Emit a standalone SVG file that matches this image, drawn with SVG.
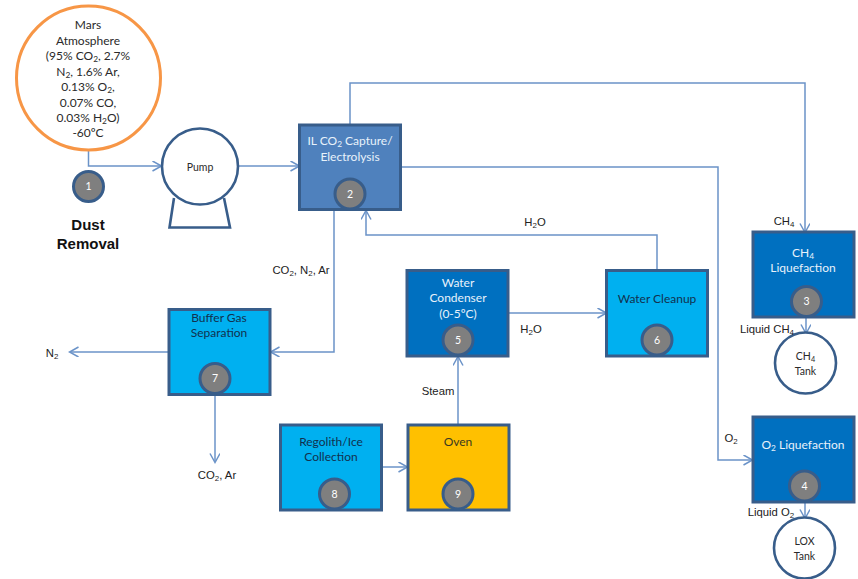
<svg xmlns="http://www.w3.org/2000/svg" width="858" height="579" viewBox="0 0 858 579">
<style>
text{font-family:Lato,"Open Sans","Liberation Sans",sans-serif;font-size:12px;text-anchor:middle;fill:#2a2a2a}
.a{font-family:"Liberation Sans",Arial,sans-serif;font-size:11.3px;fill:#222}
.w{fill:#e8f2fb}
.b{stroke:#385d8a;stroke-width:3}
.dark{fill:#0070c0}.mid{fill:#4f81bd}.light{fill:#00b0f0}.or{fill:#ffc000}
.w2{fill:#fff;stroke:#385d8a;stroke-width:2.6}
.n{fill:#7f7f7f;stroke:#385d8a;stroke-width:3}
.nt{fill:#fff;font-size:10.5px}
.sm{font-size:10.5px}
.c{fill:none;stroke:#6b93c8;stroke-width:1.5}
.s{font-size:70%;baseline-shift:-25%}
</style>
<defs><marker id="ah" markerWidth="12" markerHeight="12" refX="9.5" refY="5" orient="auto" markerUnits="userSpaceOnUse"><path d="M1 0L10 5L1 10" fill="none" stroke="#6b93c8" stroke-width="1.5"/></marker></defs>
<g id="connectors">
<path class="c" marker-end="url(#ah)" d="M88.500 148V166H161"/>
<path class="c" marker-end="url(#ah)" d="M239 166H299"/>
<path class="c" marker-end="url(#ah)" d="M350 124V83H805V232"/>
<path class="c" marker-end="url(#ah)" d="M400 167H718V460H752"/>
<path class="c" marker-end="url(#ah)" d="M657 270V235H366V211"/>
<path class="c" marker-end="url(#ah)" d="M334 211V352H271"/>
<path class="c" marker-end="url(#ah)" d="M168 352H70"/>
<path class="c" marker-end="url(#ah)" d="M215 395V462"/>
<path class="c" marker-end="url(#ah)" d="M382 467H407"/>
<path class="c" marker-end="url(#ah)" d="M458 424V357"/>
<path class="c" marker-end="url(#ah)" d="M508 313H606"/>
<path class="c" marker-end="url(#ah)" d="M806 318V333"/>
<path class="c" marker-end="url(#ah)" d="M805 503V518"/>
</g>
<g id="n-atmosphere"><circle cx="88.500" cy="78" r="72" fill="#fff" stroke="#f79646" stroke-width="3"/>
<text x="88" y="29">Mars</text><text x="88" y="45">Atmosphere</text>
<text x="88" y="60">(95% CO<tspan class="s">2</tspan>, 2.7%</text>
<text x="88" y="76">N<tspan class="s">2</tspan>, 1.6% Ar,</text>
<text x="88" y="91">0.13% O<tspan class="s">2</tspan>,</text>
<text x="88" y="107">0.07% CO,</text>
<text x="88" y="122">0.03% H<tspan class="s">2</tspan>O)</text>
<text x="88" y="137">-60ºC</text></g>
<g id="n-1"><circle class="n" cx="88.500" cy="186.500" r="15"/><text class="nt" x="88.500" y="190">1</text>
<text x="88" y="230" style="font-family:'Liberation Sans',Arial,sans-serif;font-size:15px;font-weight:bold;fill:#111">Dust</text><text x="88" y="249" style="font-family:'Liberation Sans',Arial,sans-serif;font-size:15px;font-weight:bold;fill:#111">Removal</text></g>
<g id="n-pump"><path d="M174 198L169.500 227.500H230L224 198" fill="#fff" stroke="#385d8a" stroke-width="2.600"/><circle class="w2" cx="200" cy="166.500" r="38"/><text class="sm" x="200" y="171">Pump</text></g>
<g id="n-2"><rect class="b mid" x="299.500" y="125" width="101" height="84.500"/><text class="w" x="350" y="145">IL CO<tspan class="s">2</tspan> Capture/</text><text class="w" x="350" y="161">Electrolysis</text><circle class="n" cx="350" cy="194" r="15"/><text class="nt" x="350" y="198">2</text></g>
<g id="n-3"><rect class="b dark" x="753" y="232" width="101" height="85"/><text class="w" x="803" y="257">CH<tspan class="s">4</tspan></text><text class="w" x="803" y="272">Liquefaction</text><circle class="n" cx="806.500" cy="301.500" r="15"/><text class="nt" x="806.500" y="305">3</text></g>
<g id="n-ch4tank"><circle class="w2" cx="805.500" cy="363" r="30.500"/><text class="sm" x="805.500" y="360">CH<tspan class="s">4</tspan></text><text class="sm" x="805.500" y="375">Tank</text></g>
<g id="n-4"><rect class="b dark" x="753" y="417" width="101" height="85"/><text class="w" x="803" y="449">O<tspan class="s">2</tspan> Liquefaction</text><circle class="n" cx="804.500" cy="486" r="15"/><text class="nt" x="804.500" y="490">4</text></g>
<g id="n-loxtank"><circle class="w2" cx="804.500" cy="548" r="30.500"/><text class="sm" x="804.500" y="545">LOX</text><text class="sm" x="804.500" y="560">Tank</text></g>
<g id="n-5"><rect class="b dark" x="407" y="270.500" width="101" height="85.500"/><text class="w" x="458" y="287">Water</text><text class="w" x="458" y="302">Condenser</text><text class="w" x="458" y="318">(0-5ºC)</text><circle class="n" cx="458" cy="340" r="15"/><text class="nt" x="458" y="344">5</text></g>
<g id="n-6"><rect class="b light" x="606.500" y="270.500" width="101" height="85.500"/><text x="657" y="303" style="fill:#12304f">Water Cleanup</text><circle class="n" cx="657" cy="340" r="15"/><text class="nt" x="657" y="344">6</text></g>
<g id="n-7"><rect class="b light" x="169" y="309.500" width="101" height="85"/><text x="219" y="322" style="fill:#12304f">Buffer Gas</text><text x="219" y="337" style="fill:#12304f">Separation</text><circle class="n" cx="215" cy="378.500" r="15"/><text class="nt" x="215" y="382">7</text></g>
<g id="n-8"><rect class="b light" x="280.500" y="425" width="101" height="85"/><text x="331" y="446" style="fill:#12304f">Regolith/Ice</text><text x="331" y="461" style="fill:#12304f">Collection</text><circle class="n" cx="334.500" cy="494" r="15"/><text class="nt" x="334.500" y="498">8</text></g>
<g id="n-9"><rect class="b or" x="408" y="425" width="101" height="85"/><text x="458" y="446" style="fill:#3a3a20">Oven</text><circle class="n" cx="458" cy="494" r="15"/><text class="nt" x="458" y="498">9</text></g>
<g id="labels">
<text class="a" x="535" y="226">H<tspan class="s">2</tspan>O</text>
<text class="a" x="301" y="274">CO<tspan class="s">2</tspan>, N<tspan class="s">2</tspan>, Ar</text>
<text class="a" x="531" y="333">H<tspan class="s">2</tspan>O</text>
<text class="a" x="52" y="357">N<tspan class="s">2</tspan></text>
<text class="a" x="438" y="395">Steam</text>
<text class="a" x="217" y="479">CO<tspan class="s">2</tspan>, Ar</text>
<text class="a" x="784" y="225">CH<tspan class="s">4</tspan></text>
<text class="a" x="767" y="333">Liquid CH<tspan class="s">4</tspan></text>
<text class="a" x="731" y="442">O<tspan class="s">2</tspan></text>
<text class="a" x="771" y="516">Liquid O<tspan class="s">2</tspan></text>
</g>
</svg>
